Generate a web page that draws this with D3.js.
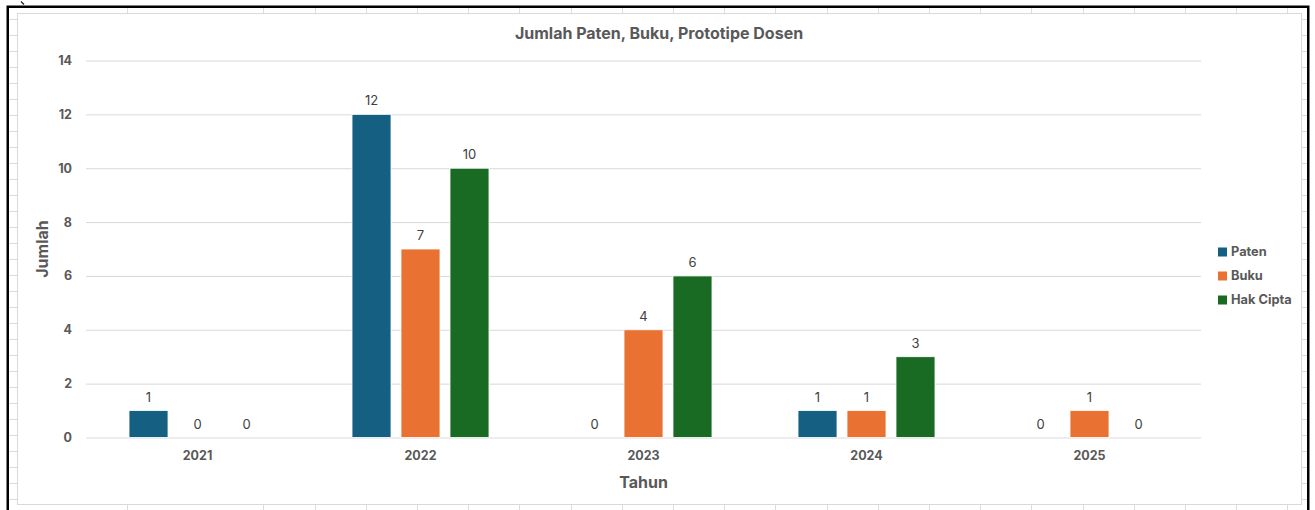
<!DOCTYPE html>
<html>
<head>
<meta charset="utf-8">
<script src="https://cdn.jsdelivr.net/npm/d3@7"></script>
<style>
  html, body { margin: 0; padding: 0; background: #ffffff; }
  svg { display: block; }
</style>
</head>
<body>
<svg id="chart" width="1315" height="510"></svg>
<script>
// Data
const years = ["2021", "2022", "2023", "2024", "2025"];
const seriesNames = ["Paten", "Buku", "Hak Cipta"];
const paten = [1, 12, 0, 1, 0];
const buku = [0, 7, 4, 1, 1];
const hakCipta = [0, 10, 6, 3, 0];
const yTicks = [0, 2, 4, 6, 8, 10, 12, 14];
const seriesColors = ["#156082", "#E97132", "#196B24"];

const seriesValues = [paten, buku, hakCipta];
const rows = years.map((y, i) => ({
  year: y,
  values: seriesNames.map((s, j) => ({ series: s, value: seriesValues[j][i], color: seriesColors[j] }))
}));

const W = 1315, H = 510;
const svg = d3.select("#chart");
const font = "Inter, 'Open Sans', 'Liberation Sans', sans-serif";
const axisGrey = "#595959";

// Worksheet cell lines behind the chart object
const sheet = svg.append("g");
const colLines = [127, 263];
for (let x = 314.6; x < W; x += 51.2) colLines.push(x);
colLines.forEach(x => sheet.append("line")
  .attr("x1", Math.round(x) + 0.5).attr("x2", Math.round(x) + 0.5)
  .attr("y1", 7).attr("y2", H).attr("stroke", "#dcdcdc").attr("stroke-width", 1));
for (let y = 19; y < H; y += 16.0) {
  sheet.append("line")
    .attr("x1", 8).attr("x2", 1308)
    .attr("y1", Math.round(y) + 0.5).attr("y2", Math.round(y) + 0.5)
    .attr("stroke", "#dcdcdc").attr("stroke-width", 1);
}

// Chart area
svg.append("rect")
  .attr("x", 17.5).attr("y", 13.5).attr("width", 1284).attr("height", 491)
  .attr("fill", "#ffffff").attr("stroke", "#d9d9d9").attr("stroke-width", 1);

// Outer black frame
svg.append("rect")
  .attr("x", 7.75).attr("y", 6.75).attr("width", 1300.5).attr("height", 520)
  .attr("fill", "none").attr("stroke", "#000000").attr("stroke-width", 2.5);
svg.append("path")
  .attr("d", "M21,1.5 L24,4.5")
  .attr("stroke", "#222").attr("stroke-width", 1.3).attr("fill", "none");

// Plot area
const plot = { left: 86, right: 1201, top: 60.5, bottom: 437.5 };

const x0 = d3.scaleBand().domain(years).range([plot.left, plot.right]).paddingInner(0).paddingOuter(0);
const x1 = d3.scaleBand().domain(seriesNames).range([0, x0.bandwidth()])
  .paddingInner(10 / 49).paddingOuter(0.878);
const y = d3.scaleLinear().domain([0, 14]).range([plot.bottom, plot.top]);

// Gridlines
const grid = d3.axisLeft(y).tickValues(yTicks).tickSize(-(plot.right - plot.left)).tickFormat("");
svg.append("g")
  .attr("transform", `translate(${plot.left},0)`)
  .call(grid)
  .call(g => g.select(".domain").remove())
  .call(g => g.selectAll(".tick line").attr("stroke", "#d9d9d9").attr("stroke-width", 1));

// Y tick labels
const yAxis = d3.axisLeft(y).tickValues(yTicks).tickSize(0).tickPadding(14);
svg.append("g")
  .attr("transform", `translate(${plot.left},0)`)
  .call(yAxis)
  .call(g => g.select(".domain").remove())
  .call(g => g.selectAll("text")
    .attr("font-family", font).attr("font-size", 12.5).attr("font-weight", 700)
    .attr("fill", axisGrey));

// X tick labels
const xAxis = d3.axisBottom(x0).tickSize(0).tickPadding(14);
svg.append("g")
  .attr("transform", `translate(0,${plot.bottom})`)
  .call(xAxis)
  .call(g => g.select(".domain").remove())
  .call(g => g.selectAll("text")
    .attr("font-family", font).attr("font-size", 12.5).attr("font-weight", 700)
    .attr("fill", axisGrey));

// Bars
const groups = svg.append("g").selectAll("g")
  .data(rows).join("g")
  .attr("transform", d => `translate(${x0(d.year)},0)`);

groups.selectAll("rect")
  .data(d => d.values.filter(v => v.value > 0))
  .join("rect")
  .attr("x", d => x1(d.series))
  .attr("y", d => y(d.value))
  .attr("width", x1.bandwidth())
  .attr("height", d => y(0) - y(d.value))
  .attr("fill", d => d.color)
  .attr("stroke", "#ffffff").attr("stroke-width", 0.8);

// Value labels
groups.selectAll("text")
  .data(d => d.values)
  .join("text")
  .attr("x", d => x1(d.series) + x1.bandwidth() / 2)
  .attr("y", d => y(d.value) - 9)
  .attr("text-anchor", "middle")
  .attr("font-family", font).attr("font-size", 13).attr("font-weight", 400)
  .attr("fill", "#404040")
  .text(d => d.value);

// Title
svg.append("text")
  .attr("x", 659).attr("y", 38.5)
  .attr("text-anchor", "middle")
  .attr("font-family", font).attr("font-size", 16).attr("font-weight", 700)
  .attr("fill", axisGrey)
  .text("Jumlah Paten, Buku, Prototipe Dosen");

// Axis titles
svg.append("text")
  .attr("transform", `translate(48,249) rotate(-90)`)
  .attr("text-anchor", "middle")
  .attr("font-family", font).attr("font-size", 16).attr("font-weight", 700)
  .attr("fill", axisGrey)
  .text("Jumlah");

svg.append("text")
  .attr("x", (plot.left + plot.right) / 2).attr("y", 488)
  .attr("text-anchor", "middle")
  .attr("font-family", font).attr("font-size", 16).attr("font-weight", 700)
  .attr("fill", axisGrey)
  .text("Tahun");

// Legend
const legend = svg.append("g").attr("transform", "translate(1218,252)");
const items = legend.selectAll("g")
  .data(seriesNames.map((s, i) => ({ name: s, color: seriesColors[i] })))
  .join("g")
  .attr("transform", (d, i) => `translate(0,${i * 24})`);
items.append("rect")
  .attr("x", 0).attr("y", -4.5).attr("width", 9).attr("height", 9)
  .attr("fill", d => d.color);
items.append("text")
  .attr("x", 13).attr("y", 0).attr("dy", "0.35em")
  .attr("font-family", font).attr("font-size", 12.8).attr("font-weight", 700)
  .attr("fill", axisGrey)
  .text(d => d.name);
</script>
</body>
</html>
